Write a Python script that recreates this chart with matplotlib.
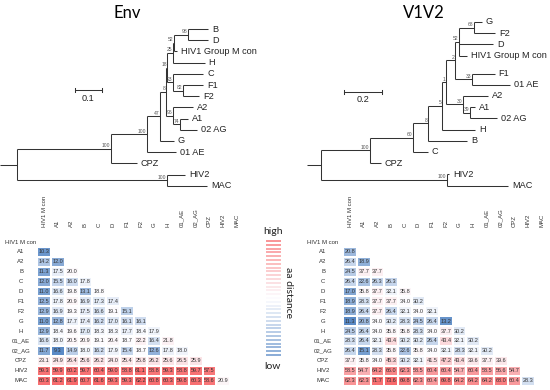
import numpy as np
import matplotlib.pyplot as plt
from matplotlib.colors import LinearSegmentedColormap, TwoSlopeNorm
from matplotlib.collections import LineCollection

# -------------------------
# DATA
# -------------------------
labels = ["HIV1 M con", "A1", "A2", "B", "C", "D", "F1", "F2", "G", "H",
          "01_AE", "02_AG", "CPZ", "HIV2", "MAC"]

# lower triangle, one list per row (A1 .. MAC)
env_rows = [
    [10.3],
    [14.2, 12.0],
    [11.3, 17.5, 20.0],
    [12.0, 15.5, 16.0, 17.8],
    [11.0, 16.6, 19.8, 13.1, 18.8],
    [12.5, 17.8, 20.9, 16.9, 17.3, 17.4],
    [12.9, 16.9, 19.3, 17.5, 16.6, 19.1, 15.1],
    [11.0, 12.8, 17.7, 17.4, 16.2, 17.0, 16.1, 16.1],
    [12.9, 18.4, 19.6, 17.0, 18.3, 18.3, 17.7, 18.4, 17.9],
    [16.6, 18.0, 20.5, 20.9, 19.1, 20.4, 18.7, 22.2, 16.4, 21.8],
    [11.7, 9.3, 14.9, 18.0, 16.2, 17.9, 15.4, 18.7, 12.6, 17.8, 18.0],
    [23.1, 24.9, 26.4, 25.6, 26.2, 24.0, 25.4, 25.8, 26.2, 25.6, 26.5, 25.9],
    [59.3, 59.9, 60.2, 59.7, 60.4, 59.0, 58.8, 61.1, 58.8, 59.3, 58.8, 59.7, 57.5],
    [60.3, 61.2, 61.9, 60.7, 61.6, 59.3, 59.3, 62.2, 60.8, 60.3, 59.8, 60.3, 58.6, 20.9],
]

v1v2_rows = [
    [20.8],
    [26.4, 18.9],
    [24.5, 37.7, 37.7],
    [26.4, 22.6, 26.3, 26.3],
    [17.0, 35.8, 37.7, 32.1, 35.8],
    [18.9, 28.3, 37.7, 37.7, 34.0, 30.2],
    [18.9, 26.4, 37.7, 26.4, 32.1, 34.0, 32.1],
    [11.3, 20.8, 34.0, 30.2, 28.3, 24.5, 26.4, 13.2],
    [24.5, 26.4, 34.0, 35.8, 35.8, 28.3, 34.0, 37.7, 30.2],
    [28.3, 26.4, 32.1, 43.4, 30.2, 30.2, 26.4, 43.4, 32.1, 30.2],
    [26.4, 15.1, 28.3, 35.8, 22.6, 35.8, 34.0, 32.1, 28.3, 32.1, 30.2],
    [37.7, 35.8, 34.0, 45.3, 30.2, 32.1, 41.5, 47.2, 43.4, 39.6, 37.7, 39.6],
    [58.5, 54.7, 64.2, 66.0, 62.3, 58.5, 60.4, 60.4, 54.7, 60.4, 58.5, 56.6, 54.7],
    [62.3, 62.3, 71.7, 73.6, 69.8, 62.3, 60.4, 69.8, 64.2, 64.2, 64.2, 68.0, 60.4, 28.3],
]

# trees: (name, branch length, bootstrap, children) ; leaves: (name, branch length)
env_leaves = ["B", "D", "HIV1 Group M con", "H", "C", "F1", "F2", "A2", "A1",
              "02 AG", "G", "01 AE", "CPZ", "HIV2", "MAC"]
env_tree = ("", 0.0, None, [
    ("", 0.348, 100, [
        ("", 0.133, 100, [
            ("", 0.048, 47, [
                ("", 0.022, 8, [
                    ("", 0.006, 18, [
                        ("", 0.019, 25, [
                            ("", 0.007, 52, [
                                ("", 0.052, 98, [("B", 0.074), ("D", 0.074)]),
                                ("HIV1 Group M con", 0.011)]),
                            ("H", 0.119)]),
                        ("", 0.022, 23, [
                            ("C", 0.111),
                            ("", 0.037, 82, [("F1", 0.074), ("F2", 0.059)])])]),
                    ("", 0.026, 96, [
                        ("A2", 0.074),
                        ("", 0.026, 74, [("A1", 0.030), ("02 AG", 0.063)])])]),
                ("G", 0.052)]),
            ("01 AE", 0.107)]),
        ("CPZ", 0.096)]),
    ("", 0.556, 100, [("HIV2", 0.067), ("MAC", 0.148)])])

v1v2_leaves = ["G", "F2", "D", "HIV1 Group M con", "F1", "01 AE", "A2", "A1",
               "02 AG", "H", "B", "C", "CPZ", "HIV2", "MAC"]
v1v2_tree = ("", 0.0, None, [
    ("", 0.258, 100, [
        ("", 0.226, 60, [
            ("", 0.079, 8, [
                ("", 0.074, 5, [
                    ("", 0.021, 1, [
                        ("", 0.047, 2, [
                            ("", 0.021, 52, [
                                ("", 0.079, 68, [("G", 0.042), ("F2", 0.111)]),
                                ("D", 0.179),
                                ("HIV1 Group M con", 0.042)]),
                            ("", 0.089, 33, [("F1", 0.121), ("01 AE", 0.200)])]),
                        ("", 0.089, 30, [
                            ("A2", 0.132),
                            ("", 0.037, 39, [("A1", 0.026), ("02 AG", 0.142)])])]),
                    ("H", 0.174)]),
                ("B", 0.205)]),
            ("C", 0.079)]),
        ("CPZ", 0.058)]),
    ("", 0.663, 100, [("HIV2", 0.011), ("MAC", 0.321)])])

# -------------------------
# STYLE
# -------------------------
W, H = 550, 390
SANS = ["Liberation Sans", "DejaVu Sans"]
TITLE = ["Lato", "DejaVu Sans"]
cmap = LinearSegmentedColormap.from_list("xl", ["#5A8AC6", "#FCFCFF", "#F8696B"])

fig = plt.figure(figsize=(W / 100, H / 100), dpi=100)


def px_axes(x, y, w, h):
    ax = fig.add_axes([x / W, 1 - (y + h) / H, w / W, h / H])
    ax.set_axis_off()
    return ax


# -------------------------
# TREES
# -------------------------
def layout(node, x0, ypos, segs, boots, tips):
    x = x0 + node[1]
    if len(node) == 2:
        y = ypos[node[0]]
        segs.append([(x0, y), (x, y)])
        tips.append((node[0], x, y))
        return y
    ys = [layout(c, x, ypos, segs, boots, tips) for c in node[3]]
    y = (ys[0] + ys[-1]) / 2
    segs.append([(x, ys[0]), (x, ys[-1])])
    segs.append([(x0, y), (x, y)])
    if node[2] is not None:
        boots.append((node[2], x, y))
    return y


def draw_tree(ax, tree, order, gap_after, stub, bar):
    ypos = {}
    y = 0.0
    for name in order:
        ypos[name] = y
        y += 1.6 if name == gap_after else 1.0
    segs, boots, tips = [], [], []
    yr = layout(tree, 0.0, ypos, segs, boots, tips)
    segs.append([(-stub, yr), (0, yr)])
    ax.add_collection(LineCollection(segs, colors="#333333", linewidths=0.75))
    for name, x, y in tips:
        ax.annotate(name, (x, y), xytext=(2.8, 0), textcoords="offset points",
                    ha="left", va="center", fontsize=6.6, family=SANS, color="#222222")
    for b, x, y in boots:
        ax.annotate(str(b), (x, y), xytext=(-0.5, 0.4), textcoords="offset points",
                    ha="right", va="bottom", fontsize=3.6, family=SANS, color="#555555")
    bx, by, bl = bar
    ax.plot([bx, bx + bl], [by, by], color="#333333", lw=0.75)
    for e in (bx, bx + bl):
        ax.plot([e, e], [by - 0.18, by + 0.18], color="#333333", lw=0.75)
    ax.annotate(f"{bl:g}", (bx + bl / 2, by), xytext=(0, -2.5), textcoords="offset points",
                ha="center", va="top", fontsize=6.6, family=SANS, color="#222222")


# Env tree: 270 px per unit, root at x=17, first leaf at y=29, 11.2 px per leaf
ax = px_axes(0, 0, 275, 210)
ax.set_xlim(-17 / 270, (275 - 17) / 270)
ax.set_ylim((210 - 29) / 11.2, -29 / 11.2)
draw_tree(ax, env_tree, env_leaves, None, 17 / 270, (58 / 270, 5.45, 0.1))

# V1V2 tree: 190 px per unit, root at x=321, first leaf at y=22
ax = px_axes(275, 0, 275, 210)
ax.set_xlim(-46 / 190, (275 - 46) / 190)
ax.set_ylim((210 - 22) / 11.2, -22 / 11.2)
draw_tree(ax, v1v2_tree, v1v2_leaves, "HIV1 Group M con", 14 / 190, (23 / 190, 6.25, 0.2))

fig.text(127 / W, 1 - 13 / H, "Env", ha="center", va="center", fontsize=12, family=TITLE)
fig.text(424 / W, 1 - 13 / H, "V1V2", ha="center", va="center", fontsize=12, family=TITLE)


# -------------------------
# HEATMAPS
# -------------------------
def draw_heat(x0, step, rows, rowlab_x):
    n = len(labels)
    dy = 9.9
    ax = px_axes(x0 - step / 2, 242 - dy / 2, step * n, dy * n)
    ax.set_xlim(-0.5, n - 0.5)
    ax.set_ylim(n - 0.5, -0.5)
    M = np.full((n, n), np.nan)
    for i, r in enumerate(rows, start=1):
        M[i, :len(r)] = r
    vals = M[~np.isnan(M)]
    norm = TwoSlopeNorm(vmin=vals.min(), vcenter=np.median(vals), vmax=vals.max())
    edges = np.arange(n + 1) - 0.5
    ax.pcolormesh(edges, edges, np.ma.masked_invalid(M), cmap=cmap, norm=norm,
                  edgecolors="white", linewidth=0.3)
    for i in range(n):
        for j in range(n):
            if not np.isnan(M[i, j]):
                ax.text(j, i, f"{M[i, j]:.1f}", ha="center", va="center",
                        fontsize=4, family=SANS, color="#333333")
    for i, lab in enumerate(labels):
        ax.text((rowlab_x - x0) / step, i, lab, ha="center", va="center",
                fontsize=4.3, family=SANS, color="#333333", clip_on=False)
        ax.text(i, (227 - 242) / dy, lab, rotation=90, ha="center", va="bottom",
                fontsize=4.3, family=SANS, color="#333333", clip_on=False)


draw_heat(44, 13.8, env_rows, 21)
draw_heat(350, 13.7, v1v2_rows, 323)

# -------------------------
# COLOUR KEY
# -------------------------
ax = px_axes(250, 215, 50, 165)
ax.set_xlim(250, 300)
ax.set_ylim(380, 215)
ly = np.linspace(241, 355, 31)
ax.hlines(ly, 266, 281, colors=cmap(np.linspace(0.95, 0.05, len(ly))), lw=1.1)
ax.text(273, 232, "high", ha="center", va="center", fontsize=7.5, family=TITLE, color="#222222")
ax.text(272, 367, "low", ha="center", va="center", fontsize=7.5, family=TITLE, color="#222222")
ax.text(288, 293, "aa distance", rotation=-90, ha="center", va="center",
        fontsize=7.5, family=TITLE, color="#222222")

fig.savefig("out.png", dpi=100)
